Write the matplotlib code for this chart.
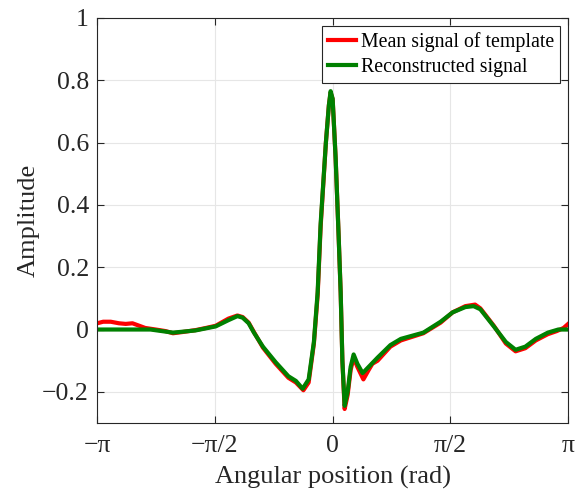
import numpy as np
import matplotlib
matplotlib.use('Agg')
import matplotlib.pyplot as plt

# Angular positions (rad) and amplitudes
theta_rec = [-3.1416, -2.8, -2.43, -2.13, -1.83, -1.56, -1.39, -1.27, -1.2, -1.12, -1.05,
             -0.93, -0.76, -0.59, -0.49, -0.40, -0.32, -0.25, -0.20, -0.16, -0.09, -0.05,
             -0.027, 0.0, 0.04, 0.08, 0.107, 0.13, 0.16, 0.20, 0.24, 0.28, 0.33, 0.40,
             0.48, 0.60, 0.77, 0.91, 1.21, 1.44, 1.60, 1.77, 1.88, 1.97, 2.15, 2.31,
             2.44, 2.57, 2.71, 2.87, 3.01, 3.1416]
amp_rec = [0.0, 0.0, 0.0, -0.01, -0.003, 0.01, 0.03, 0.043, 0.038, 0.02, -0.01,
           -0.055, -0.105, -0.15, -0.165, -0.19, -0.16, -0.04, 0.12, 0.34, 0.60, 0.72,
           0.765, 0.74, 0.55, 0.30, 0.12, -0.10, -0.245, -0.20, -0.12, -0.08, -0.11, -0.14,
           -0.12, -0.09, -0.05, -0.03, -0.01, 0.025, 0.055, 0.072, 0.075, 0.065, 0.01, -0.04,
           -0.065, -0.055, -0.03, -0.01, 0.0, 0.0]

theta_mean = [-3.1416, -3.06, -2.96, -2.85, -2.76, -2.67, -2.59, -2.5, -2.36, -2.23, -2.13,
              -2.0, -1.83, -1.69, -1.56, -1.39, -1.27, -1.2, -1.12, -1.05, -0.93, -0.76,
              -0.59, -0.49, -0.39, -0.32, -0.25, -0.20, -0.16, -0.09, -0.05, -0.027, 0.0,
              0.04, 0.08, 0.107, 0.13, 0.16, 0.20, 0.24, 0.28, 0.33, 0.41, 0.48, 0.53, 0.60,
              0.77, 0.91, 1.21, 1.44, 1.60, 1.77, 1.90, 1.97, 2.15, 2.31, 2.44, 2.57,
              2.71, 2.87, 2.99, 3.08, 3.1416]
amp_mean = [0.02, 0.025, 0.025, 0.02, 0.018, 0.02, 0.013, 0.005, 0.0, -0.005, -0.012,
            -0.008, -0.002, 0.005, 0.012, 0.035, 0.045, 0.04, 0.022, -0.008, -0.058, -0.11,
            -0.155, -0.17, -0.195, -0.17, -0.045, 0.11, 0.33, 0.60, 0.72, 0.76, 0.74,
            0.55, 0.30, 0.12, -0.10, -0.255, -0.21, -0.13, -0.09, -0.12, -0.16, -0.13, -0.11, -0.10,
            -0.055, -0.035, -0.012, 0.022, 0.055, 0.075, 0.08, 0.068, 0.012, -0.045, -0.07, -0.06,
            -0.035, -0.015, -0.005, 0.005, 0.018]

xtick_vals = [-np.pi, -np.pi / 2, 0, np.pi / 2, np.pi]
xtick_labels = ['\u2212\u03c0', '\u2212\u03c0/2', '0', '\u03c0/2', '\u03c0']
ytick_vals = [-0.2, 0, 0.2, 0.4, 0.6, 0.8, 1]
ytick_labels = ['\u22120.2', '0', '0.2', '0.4', '0.6', '0.8', '1']

plt.rcParams['font.family'] = ['Liberation Serif', 'DejaVu Serif']

fig = plt.figure(figsize=(5.78, 4.91), dpi=100)
ax = fig.add_axes([0.168, 0.1385, 0.815, 0.825])

ax.plot(theta_mean, amp_mean, color='#ff0000', lw=3, label='Mean signal of template')
ax.plot(theta_rec, amp_rec, color='#008000', lw=3, label='Reconstructed signal')

ax.set_xlim(-np.pi, np.pi)
ax.set_ylim(-0.3, 1)
ax.set_xticks(xtick_vals)
ax.set_xticklabels(xtick_labels)
ax.set_yticks(ytick_vals)
ax.set_yticklabels(ytick_labels)
ax.tick_params(direction='in', top=True, right=True, labelsize=18.5, length=5,
               color='#262626', labelcolor='#262626')
ax.tick_params(axis='x', pad=9)
ax.tick_params(axis='y', pad=6)
ax.grid(True, color='#e6e6e6', lw=0.8)
ax.set_axisbelow(True)
for s in ax.spines.values():
    s.set_color('#262626')
    s.set_linewidth(0.8)

ax.set_xlabel('Angular position (rad)', fontsize=19, color='#262626', labelpad=6)
ax.set_ylabel('Amplitude', fontsize=19, color='#262626', labelpad=2)

leg = ax.legend(loc='upper right', fontsize=14.3, frameon=True, fancybox=False,
                edgecolor='#262626', framealpha=1, handlelength=1.4, handletextpad=0.25,
                borderaxespad=0.4, borderpad=0.3, labelspacing=0.3)
leg.get_frame().set_linewidth(0.8)

fig.savefig('out.png', dpi=100)
